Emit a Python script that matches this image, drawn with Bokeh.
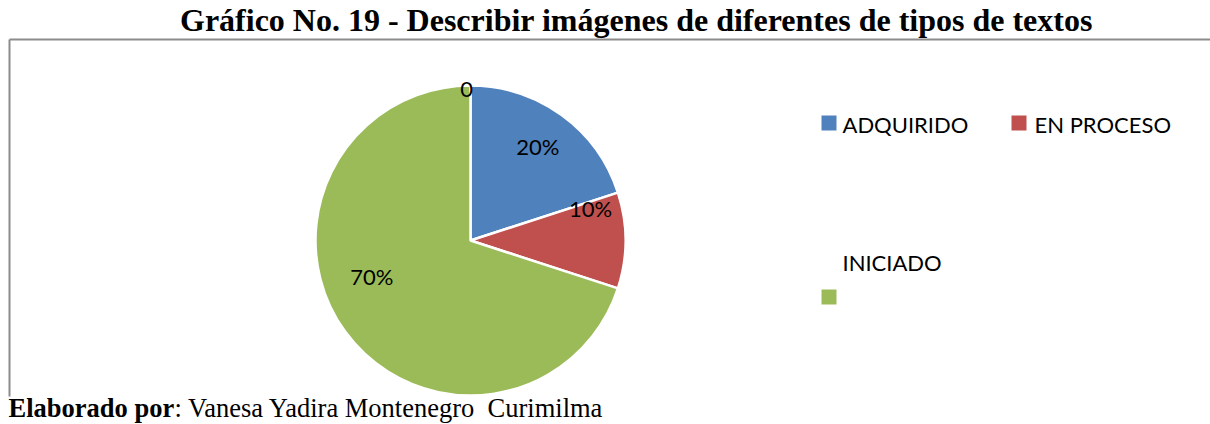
import numpy as np
from bokeh.plotting import figure
from bokeh.models import Range1d, ColumnDataSource
from bokeh.core.properties import value
from bokeh.embed import file_html
from bokeh.resources import INLINE

# ---- data ----
title_text = "Gráfico No. 19 - Describir imágenes de diferentes de tipos de textos"
footer_bold = "Elaborado por"
footer_rest = ": Vanesa Yadira Montenegro\u00a0 Curimilma"
categories = ["ADQUIRIDO", "EN PROCESO", "INICIADO", ""]
values = [20, 10, 70, 0]
labels = ["20%", "10%", "70%", "0"]
colors = ["#4F81BD", "#C0504D", "#9BBB59", "#8064A2"]

# ---- style / layout ----
W, H = 1210, 424
def px(x):  # page x -> data x
    return x
def py(y):  # page y -> data y (y grows upward in data)
    return H - y

cx, cy, R = px(470), py(240), 155
label_r = [0.74, 0.80, 0.68, 0.97]
label_da = [0.0, 14.5, -15.3, 1.5]

p = figure(width=W, height=H, x_range=Range1d(0, W), y_range=Range1d(0, H),
           output_backend="svg", toolbar_location=None, min_border=0,
           x_axis_location=None, y_axis_location=None)
p.grid.visible = False
p.outline_line_color = None
p.background_fill_color = "white"
p.border_fill_color = "white"

# frame lines of the chart box
box_top = 39
p.line(x=[px(9), W], y=[py(box_top), py(box_top)], line_color="#8c8c8c", line_width=2)
p.line(x=[px(9), px(9)], y=[py(box_top), py(396)], line_color="#8c8c8c", line_width=2)

# pie
vals = np.array(values, dtype=float)
frac = vals / vals.sum()
cum = np.concatenate([[0], np.cumsum(frac)])
start = np.deg2rad(90 - cum[:-1] * 360)
end = np.deg2rad(90 - cum[1:] * 360)
mid = (start + end) / 2
mask = vals > 0
src = ColumnDataSource(dict(start=start[mask], end=end[mask],
                            color=[c for c, m in zip(colors, mask) if m]))
p.wedge(x=cx, y=cy, radius=R, start_angle="start", end_angle="end",
        direction="clock", fill_color="color", line_color="white",
        line_width=2.5, source=src)

# data labels
la = mid + np.deg2rad(label_da)
lx = cx + np.array(label_r) * R * np.cos(la)
ly = cy + np.array(label_r) * R * np.sin(la) + 1
p.text(x=lx, y=ly, text=labels, text_font=value("Lato"), text_font_size="22px",
       text_align="center", text_baseline="middle", text_color="#000000")

# legend (manual)
leg_sq_x = [px(828.5), px(1018.5), px(828.5)]
leg_sq_y = [py(122.5), py(122.5), py(296.5)]
p.rect(x=leg_sq_x, y=leg_sq_y, width=15, height=15, fill_color=colors[:3], line_color=None)
leg_tx = [px(842), px(1034), px(842)]
leg_ty = [py(124), py(124), py(262)]
p.text(x=leg_tx, y=leg_ty, text=categories[:3], text_font=value("Lato"),
       text_font_size="22px", text_align="left", text_baseline="middle",
       text_color="#000000")

# title
p.text(x=[px(636)], y=[py(1)], text=[title_text], text_font=value("Liberation Serif"),
       text_font_size="32px", text_font_style="bold", text_align="center",
       text_baseline="top", text_color="#000000")

# footer
p.text(x=[px(8)], y=[py(422)], text=[footer_bold], text_font=value("Liberation Serif"),
       text_font_size="26.5px", text_font_style="bold", text_align="left",
       text_baseline="bottom", text_color="#000000")
p.text(x=[px(174)], y=[py(422)], text=[footer_rest], text_font=value("Liberation Serif"),
       text_font_size="26.5px", text_align="left", text_baseline="bottom",
       text_color="#000000")

open("out.html", "w").write(file_html(p, INLINE))
